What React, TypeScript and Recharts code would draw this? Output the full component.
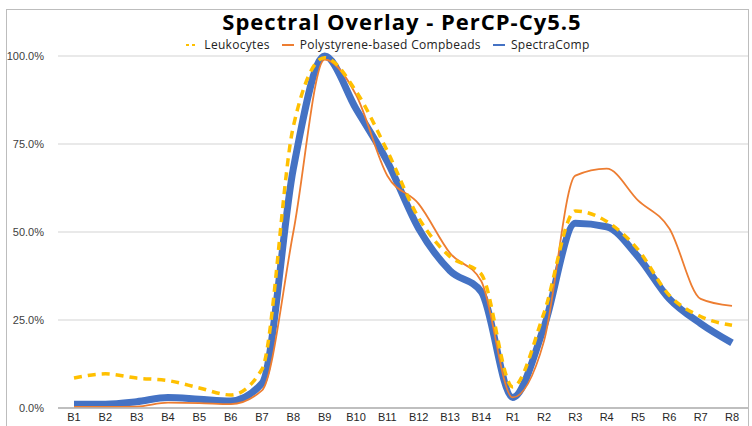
import React from 'react';
import { CartesianGrid, Line, LineChart, XAxis, YAxis } from 'recharts';

const channels = [
  'B1', 'B2', 'B3', 'B4', 'B5', 'B6', 'B7', 'B8', 'B9', 'B10', 'B11',
  'B12', 'B13', 'B14', 'R1', 'R2', 'R3', 'R4', 'R5', 'R6', 'R7', 'R8',
];

// values in percent
const leukocytes = [
  8.5, 9.7, 8.5, 7.8, 5.7, 3.7, 11, 80, 99.5, 90, 73,
  54, 43, 38, 6, 27, 56, 53, 45, 32, 26, 23.5,
];
const compbeads = [
  0.3, 0.3, 0.4, 1.5, 1.4, 1.1, 5, 50, 99, 89, 66,
  58, 44, 36, 3, 19, 66, 68, 59, 51, 31, 29,
];
const spectraComp = [
  1.1, 1.1, 1.8, 3, 2.5, 2, 7, 68, 100, 85, 70,
  51, 39, 33, 3, 23, 52.5, 51.5, 43, 31, 24, 18.5,
];

const yTicks = [0, 25, 50, 75, 100];

const COLORS = {
  leukocytes: '#FFC000',
  compbeads: '#ED7D31',
  spectraComp: '#4472C4',
};

const rows = channels.map((ch, i) => ({
  channel: ch,
  leukocytes: leukocytes[i],
  compbeads: compbeads[i],
  spectraComp: spectraComp[i],
}));

const legendItems = [
  { label: 'Leukocytes', color: COLORS.leukocytes, dashed: true },
  { label: 'Polystyrene-based Compbeads', color: COLORS.compbeads, dashed: false },
  { label: 'SpectraComp', color: COLORS.spectraComp, dashed: false },
];

const tickFont = { fontFamily: '"Liberation Sans", Arial, sans-serif', fontSize: 11 };

export default function App(): React.ReactElement {
  return (
    <div
      style={{
        position: 'fixed',
        left: 0,
        top: 0,
        width: 752,
        height: 426,
        background: '#fff',
        overflow: 'hidden',
      }}
    >
      {/* chart frame */}
      <div
        style={{
          position: 'absolute',
          left: 6,
          top: 9,
          width: 743,
          height: 440,
          border: '1px solid #bdbdbd',
          boxSizing: 'border-box',
        }}
      />
      <div
        style={{
          position: 'absolute',
          left: 0,
          top: 10,
          width: 804,
          textAlign: 'center',
          fontFamily: '"Open Sans", sans-serif',
          fontWeight: 700,
          fontSize: 22,
          letterSpacing: 1,
          lineHeight: '22px',
          color: '#000',
        }}
      >
        Spectral Overlay - PerCP-Cy5.5
      </div>
      <div
        style={{
          position: 'absolute',
          left: 0,
          top: 38,
          width: 776,
          display: 'flex',
          justifyContent: 'center',
          gap: 12,
          fontFamily: '"Open Sans", sans-serif',
          fontSize: 12,
          letterSpacing: 0.3,
          lineHeight: '13px',
          color: '#222',
        }}
      >
        {legendItems.map((it) => (
          <span key={it.label} style={{ display: 'flex', alignItems: 'center', gap: 6 }}>
            <svg width={12} height={4}>
              <line
                x1={0}
                y1={2}
                x2={12}
                y2={2}
                stroke={it.color}
                strokeWidth={2}
                strokeDasharray={it.dashed ? '3 3' : undefined}
              />
            </svg>
            {it.label}
          </span>
        ))}
      </div>
      <div style={{ position: 'absolute', left: 0, top: 0 }}>
        <LineChart
          width={752}
          height={426}
          data={rows}
          margin={{ top: 56, right: 4, left: 0, bottom: 0 }}
        >
          <CartesianGrid stroke="#d4d4d4" strokeWidth={1.2} vertical={false} />
          <XAxis
            dataKey="channel"
            height={18}
            tickSize={0}
            tickMargin={5}
            interval={0}
            padding={{ left: 16, right: 16 }}
            axisLine={{ stroke: '#b0b0b0', strokeWidth: 1.5 }}
            tick={{ ...tickFont, fill: '#262626' }}
          />
          <YAxis
            width={58}
            domain={[0, 100]}
            ticks={yTicks}
            tickSize={0}
            tickMargin={14}
            axisLine={false}
            tickFormatter={(v: number) => `${v.toFixed(1)}%`}
            tick={{ ...tickFont, fill: '#404040' }}
          />
          <Line
            type="monotone"
            dataKey="spectraComp"
            stroke={COLORS.spectraComp}
            strokeWidth={7}
            dot={false}
            isAnimationActive={false}
          />
          <Line
            type="monotone"
            dataKey="compbeads"
            stroke={COLORS.compbeads}
            strokeWidth={1.8}
            dot={false}
            isAnimationActive={false}
          />
          <Line
            type="monotone"
            dataKey="leukocytes"
            stroke={COLORS.leukocytes}
            strokeWidth={3.5}
            strokeDasharray="8 6"
            dot={false}
            isAnimationActive={false}
          />
        </LineChart>
      </div>
    </div>
  );
}
